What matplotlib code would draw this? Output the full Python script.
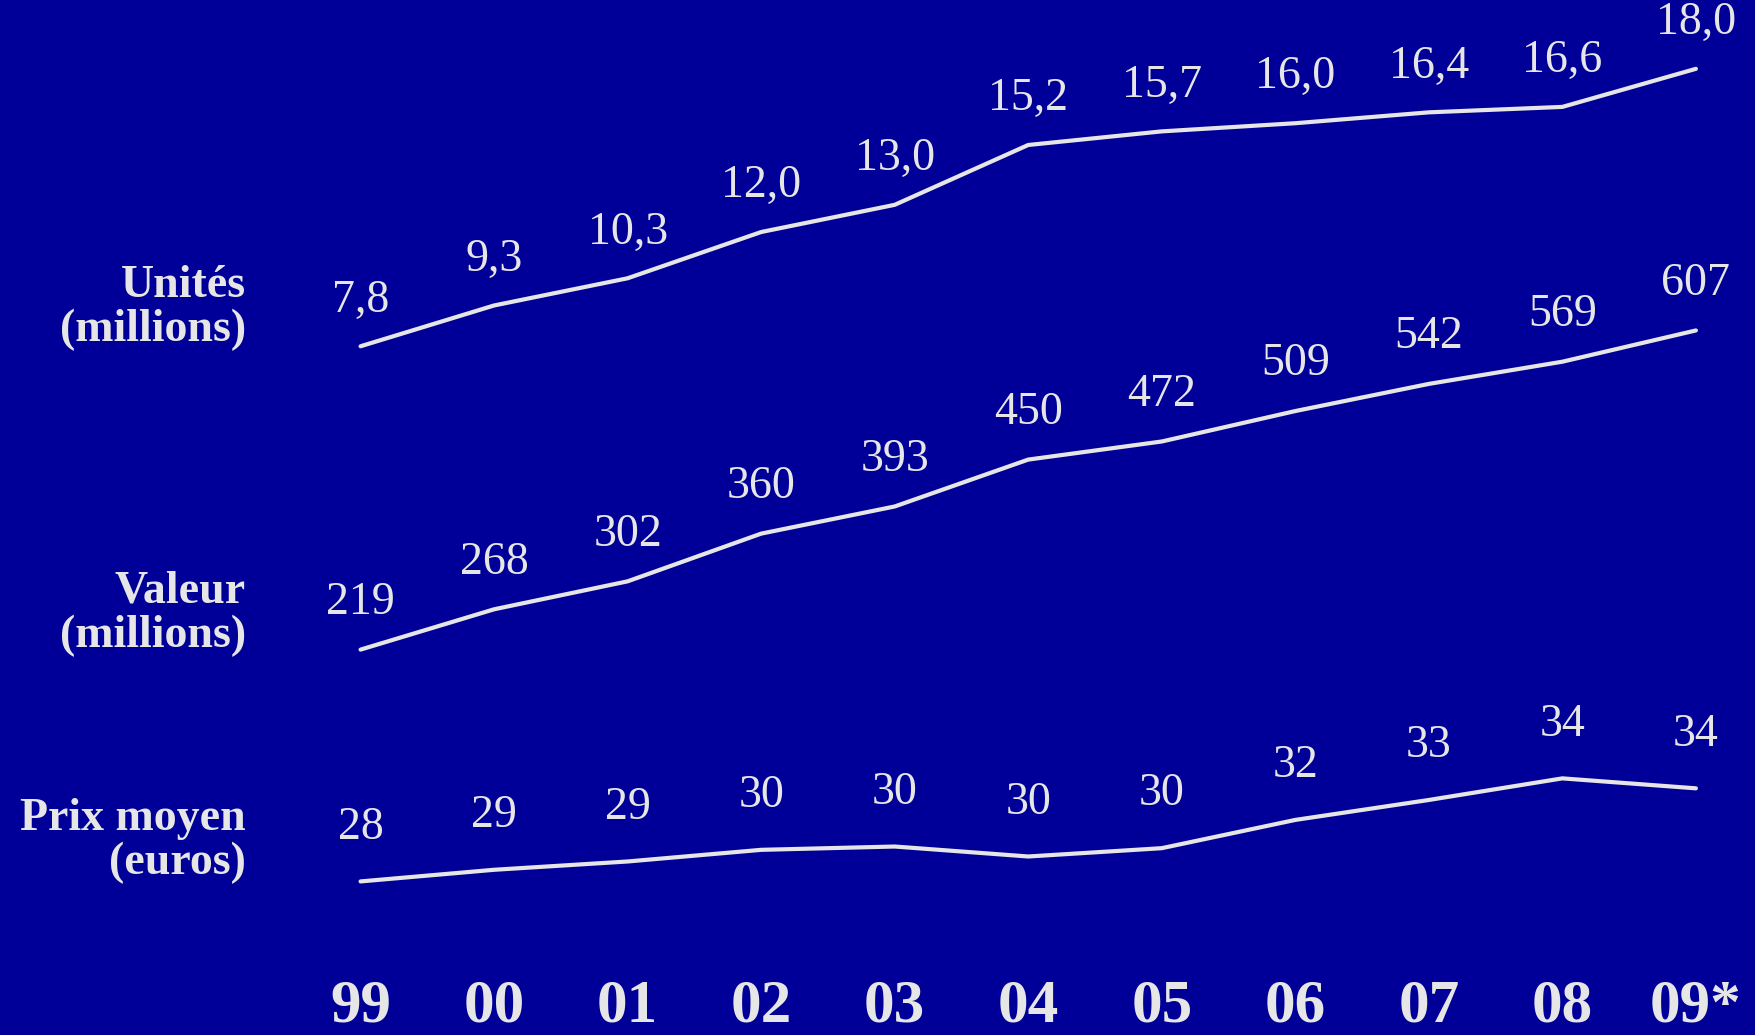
import matplotlib
matplotlib.use("Agg")
import matplotlib.pyplot as plt
import matplotlib.transforms as mtransforms

years = ['99', '00', '01', '02', '03', '04', '05', '06', '07', '08', '09*']
units = [7.8, 9.3, 10.3, 12.0, 13.0, 15.2, 15.7, 16.0, 16.4, 16.6, 18.0]
value = [219, 268, 302, 360, 393, 450, 472, 509, 542, 569, 607]
price = [28.1, 28.8, 29.3, 30.0, 30.2, 29.6, 30.1, 31.8, 33.0, 34.3, 33.7]

row_labels = ['Unités\n(millions)', 'Valeur\n(millions)', 'Prix moyen\n(euros)']

bg = '#000099'
fg = '#E6E6E6'
plt.rcParams['font.family'] = ['Liberation Serif', 'DejaVu Serif']

fig = plt.figure(figsize=(17.56, 10.35), dpi=100)
fig.patch.set_facecolor(bg)

x = list(range(len(years)))
xlim = (-2.70, 10.45)

# each series gets its own band, done by giving each axes its own y range
series = [
    (units, (-17.52, 20.53), lambda v: f'{v:.1f}'.replace('.', ','), 46),
    (value, (-249.5, 1008.7), lambda v: f'{v:d}', 47),
    (price, (18.86, 81.13), lambda v: f'{round(v):d}', 54),
]

axes = []
for vals, ylim, fmt, off in series:
    ax = fig.add_axes([0, 0, 1, 1])
    ax.set_facecolor('none')
    ax.set_xlim(*xlim)
    ax.set_ylim(*ylim)
    ax.axis('off')
    ax.plot(x, vals, color=fg, lw=3, solid_capstyle='round')
    for xi, v in zip(x, vals):
        ax.annotate(fmt(v), (xi, v), xytext=(0, off), textcoords='offset pixels',
                    ha='center', va='center', fontsize=33, color=fg)
    axes.append(ax)

# row labels on the left
label_y = [727 / 1035, 421 / 1035, 194 / 1035]
for lab, yy in zip(row_labels, label_y):
    fig.text(246 / 1756, yy, lab, ha='right', va='center', multialignment='right',
             fontsize=33, fontweight='bold', color=fg, linespacing=1.08)

# year labels along the bottom
ax = axes[0]
trans = mtransforms.blended_transform_factory(ax.transData, fig.transFigure)
for xi, yr in zip(x, years):
    ax.text(xi, 1 / 1035, yr, transform=trans, ha='center', va='bottom',
            fontsize=44, fontweight='bold', color=fg)

fig.savefig('out.png', dpi=100, facecolor=bg)
